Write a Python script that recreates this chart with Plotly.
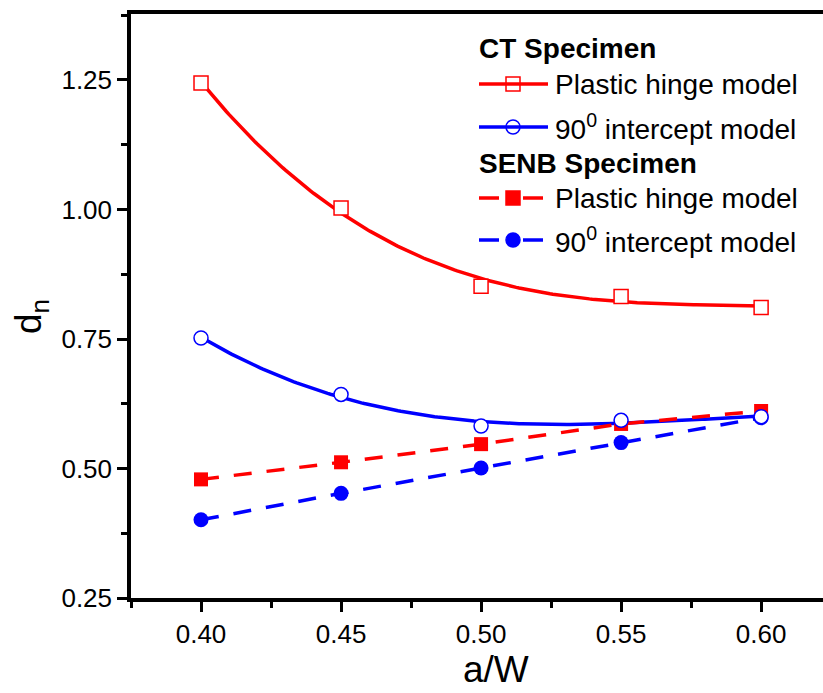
import numpy as np
import plotly.graph_objects as go

# ---- data ----
a_w = [0.40, 0.45, 0.50, 0.55, 0.60]
ct_plastic_hinge = [1.244, 1.003, 0.852, 0.832, 0.811]
ct_90_intercept = [0.752, 0.643, 0.582, 0.593, 0.600]
senb_plastic_hinge = [0.479, 0.512, 0.547, 0.586, 0.611]
senb_90_intercept = [0.401, 0.452, 0.501, 0.550, 0.598]

x_ticks = [0.40, 0.45, 0.50, 0.55, 0.60]
x_tick_labels = ["0.40", "0.45", "0.50", "0.55", "0.60"]
y_ticks = [0.25, 0.50, 0.75, 1.00, 1.25]
y_tick_labels = ["0.25", "0.50", "0.75", "1.00", "1.25"]

RED = "#ff0000"
BLUE = "#0000ff"
FONT = "Liberation Sans, Arial, sans-serif"

# smooth fitted curves for CT specimen (cubic least squares)
xf = np.linspace(min(a_w), max(a_w), 200)
ct_ph_fit = np.polyval(np.polyfit(a_w, ct_plastic_hinge, 3), xf)
ct_90_fit = np.polyval(np.polyfit(a_w, ct_90_intercept, 3), xf)

fig = go.Figure()

fig.add_trace(go.Scatter(x=xf, y=ct_ph_fit, mode="lines",
                         line=dict(color=RED, width=3.5), showlegend=False))
fig.add_trace(go.Scatter(x=xf, y=ct_90_fit, mode="lines",
                         line=dict(color=BLUE, width=3.5), showlegend=False))
fig.add_trace(go.Scatter(x=a_w, y=senb_plastic_hinge, mode="lines+markers",
                         line=dict(color=RED, width=3.5, dash="18px,15px"),
                         marker=dict(symbol="square", size=14, color=RED),
                         showlegend=False))
fig.add_trace(go.Scatter(x=a_w, y=senb_90_intercept, mode="lines+markers",
                         line=dict(color=BLUE, width=3.5, dash="18px,15px"),
                         marker=dict(symbol="circle", size=15, color=BLUE),
                         showlegend=False))
fig.add_trace(go.Scatter(x=a_w, y=ct_plastic_hinge, mode="markers",
                         marker=dict(symbol="square", size=14, color="white",
                                     line=dict(color=RED, width=1.5)),
                         showlegend=False))
fig.add_trace(go.Scatter(x=a_w, y=ct_90_intercept, mode="markers",
                         marker=dict(symbol="circle", size=14, color="white",
                                     line=dict(color=BLUE, width=1.5)),
                         showlegend=False))

# ---- manual legend in pixel-like overlay coordinates ----
L0, L1, LM = 479, 548, 513
rows = [
    dict(y=84, color=RED, sym="square", fill="white", dashed=False,
         text="Plastic hinge model"),
    dict(y=127, color=BLUE, sym="circle", fill="white", dashed=False,
         text="90<sup>0</sup> intercept model"),
    dict(y=198, color=RED, sym="square", fill=RED, dashed=True,
         text="Plastic hinge model"),
    dict(y=240, color=BLUE, sym="circle", fill=BLUE, dashed=True,
         text="90<sup>0</sup> intercept model"),
]
shapes = []
for r in rows:
    if r["dashed"]:
        segs = [(479, 499), (523, 543)]
    else:
        segs = [(L0, L1)]
    for s0, s1 in segs:
        shapes.append(dict(type="line", xref="x2", yref="y2", x0=s0, x1=s1,
                           y0=r["y"], y1=r["y"],
                           line=dict(color=r["color"], width=3.5)))
    fig.add_trace(go.Scatter(
        x=[LM], y=[r["y"]], xaxis="x2", yaxis="y2", mode="markers",
        marker=dict(symbol=r["sym"], size=14, color=r["fill"],
                    line=dict(color=r["color"], width=1.5)),
        showlegend=False, hoverinfo="skip"))

annotations = []
for r in rows:
    annotations.append(dict(xref="x2", yref="y2", x=553, y=r["y"],
                            xanchor="left", yanchor="middle", showarrow=False,
                            text=r["text"],
                            font=dict(family=FONT, size=28, color="black")))
for ttl, yy in [("<b>CT Specimen</b>", 48), ("<b>SENB Specimen</b>", 163)]:
    annotations.append(dict(xref="x2", yref="y2", x=477, y=yy,
                            xanchor="left", yanchor="middle", showarrow=False,
                            text=ttl,
                            font=dict(family=FONT, size=28, color="black")))


def px_x(p):
    return (p - 131) / 692.0


def px_y(p):
    return (598 - p) / 584.0


# axis titles (paper coords)
annotations.append(dict(xref="paper", yref="paper", x=px_x(496), y=px_y(647),
                        xanchor="center", yanchor="top", showarrow=False,
                        text="a/W",
                        font=dict(family=FONT, size=37, color="black")))
annotations.append(dict(xref="paper", yref="paper", x=px_x(31), y=px_y(316),
                        xanchor="center", yanchor="middle", showarrow=False,
                        textangle=-90, text="d<sub>n</sub>",
                        font=dict(family=FONT, size=37, color="black")))

axis_common = dict(showgrid=False, zeroline=False, linecolor="black",
                   linewidth=3.5, ticks="outside", tickwidth=3,
                   tickcolor="black", ticklen=10,
                   tickfont=dict(family=FONT, size=26, color="black"))

fig.update_layout(
    width=823, height=693,
    margin=dict(l=131, r=0, t=14, b=95, autoexpand=False),
    plot_bgcolor="white", paper_bgcolor="white",
    showlegend=False,
    xaxis=dict(range=[0.375, 0.6221], tickvals=x_ticks,
               ticktext=x_tick_labels, mirror=True,
               minor=dict(dtick=0.025, tick0=0.375, ticks="outside",
                          ticklen=6, tickwidth=3, tickcolor="black"),
               **axis_common),
    yaxis=dict(range=[0.25, 1.3774], tickvals=y_ticks,
               ticktext=y_tick_labels,
               minor=dict(dtick=0.125, tick0=0.25, ticks="outside",
                          ticklen=6, tickwidth=3, tickcolor="black"),
               **axis_common),
    xaxis2=dict(range=[131, 823], overlaying="x", visible=False,
                fixedrange=True),
    yaxis2=dict(range=[598, 14], overlaying="y", visible=False,
                fixedrange=True),
    shapes=shapes,
    annotations=annotations,
)

fig.write_html("out.html",
               config={"displayModeBar": False},
               post_script="document.body.style.margin='0';"
                           "document.body.style.overflow='hidden';")
